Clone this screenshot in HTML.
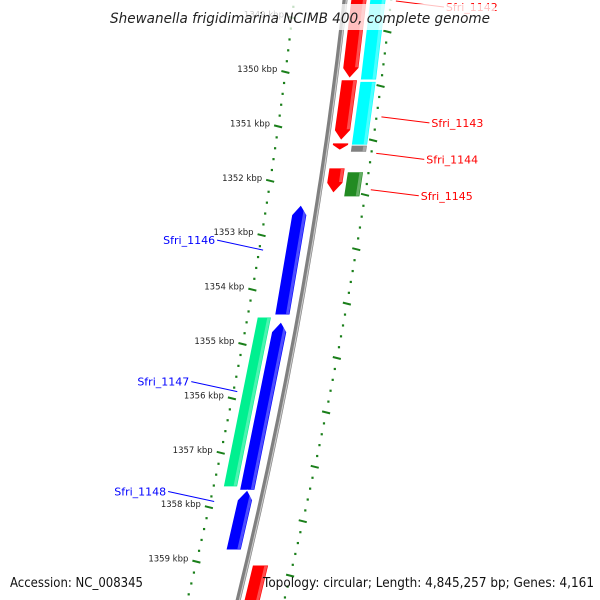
<!DOCTYPE html>
<html><head><meta charset="utf-8"><style>
html,body{margin:0;padding:0;background:#fff;}
svg{display:block;font-family:"DejaVu Sans","Liberation Sans",sans-serif;}
</style></head><body>
<svg id="map" width="600" height="600" viewBox="0 0 600 600">
<g id="rulers"></g>
<g id="backbone"></g>
<g id="genes"></g>
<g id="labels"></g>
<rect x="105" y="4" width="390" height="26" fill="#fff" opacity="0.75"/>
<text x="300" y="23" text-anchor="middle" font-size="14" font-style="italic" fill="#222" textLength="380" lengthAdjust="spacingAndGlyphs">Shewanella frigidimarina NCIMB 400, complete genome</text>
<text x="10" y="587" font-size="13" fill="#111" textLength="133" lengthAdjust="spacingAndGlyphs">Accession: NC_008345</text>
<text x="263" y="587" font-size="13" fill="#111" textLength="331" lengthAdjust="spacingAndGlyphs">Topology: circular; Length: 4,845,257 bp; Genes: 4,161</text>
</svg>
<script>
// data
const tickKbp = [1349, 1350, 1351, 1352, 1353, 1354, 1355, 1356, 1357, 1358, 1359, 1360];
const tickLabels = ["1349 kbp","1350 kbp","1351 kbp","1352 kbp","1353 kbp","1354 kbp","1355 kbp","1356 kbp","1357 kbp","1358 kbp","1359 kbp","1360 kbp"];
const geneNames = ["Sfri_1142","cds-1142","Sfri_1143","cds-1143b","small-1143","Sfri_1144","Sfri_1145","cds-1145","Sfri_1146","Sfri_1147","cds-1147","Sfri_1148","cds-1149"];
const geneStart = [1348.55,1348.55,1350.20,1350.23,1351.36,1351.40,1351.82,1351.89,1352.50,1354.65,1354.56,1357.74,1359.12];
const geneEnd   = [1350.17,1350.20,1351.31,1351.40,1351.49,1351.53,1352.28,1352.35,1354.52,1357.74,1357.68,1358.84,1360.00];
const geneStrand= [1,1,1,1,1,1,1,1,-1,-1,-1,-1,1];
const geneRing  = [1,2,1,2,1,2,1,2,1,1,2,1,1];
const geneColor = ["#ff0000","#00ffff","#ff0000","#00ffff","#ff0000","#808080","#ff0000","#228b22","#0000ff","#0000ff","#00f090","#0000ff","#ff0000"];
const geneArrow = [1,0,1,0,1,0,1,0,1,1,0,1,1];
const labelNames = ["Sfri_1142","Sfri_1143","Sfri_1144","Sfri_1145","Sfri_1146","Sfri_1147","Sfri_1148"];
const labelKbp   = [1348.75,1350.88,1351.55,1352.22,1353.33,1355.93,1357.95];

const NS="http://www.w3.org/2000/svg";
function yOf(k){return 69+(k-1350)*54.4;}
function xc(y){return 345-0.112*y-0.00011*y*y;}
function P(y,u){return (xc(y)+u).toFixed(1)+","+y.toFixed(1);}
function mk(tag,attrs,parent){const e=document.createElementNS(NS,tag);for(const k in attrs)e.setAttribute(k,attrs[k]);parent.appendChild(e);return e;}

// backbone
const bb=document.getElementById('backbone');
let pts=[];for(let y=-10;y<=610;y+=10)pts.push(P(y,0));
const bl=mk('polyline',{points:pts.join(' '),fill:'none',stroke:'#808080','stroke-width':5},bb);


const bl2=mk('polyline',{points:pts.map((p,i)=>P(-10+i*10,1.3)).join(' '),fill:'none',stroke:'#c8c8c8','stroke-width':1.2},bb);



// rulers
const rg=document.getElementById('rulers');
function ruler(u,offset,side){
  for(let k=1348;k<=1361;k+=0.2){
    const y=yOf(k)+offset; if(y<-5||y>605)continue;
    const major=Math.abs(k-Math.round(k))<0.01;
    if(major){
      const d=mk('line',{x1:xc(y)+u-4,y1:y-1,x2:xc(y)+u+4,y2:y+1,stroke:'#1a7f1a','stroke-width':2},rg);
      
      
    } else {
      const d=mk('rect',{x:xc(y)+u-1,y:y-1,width:2.2,height:2.2,fill:'#1a7f1a'},rg);
      
      
    }
  }
}
ruler(-51,3,'left');
ruler(46,17,'right');
tickKbp.forEach((k,i)=>{
  const y=yOf(k); if(y<0||y>590)return;
  const t=mk('text',{x:xc(y+3)-59,y:y+3,'text-anchor':'end','font-size':8.5,fill:'#222'},rg);
  t.textContent=tickLabels[i];
  
  
});

// genes
const gg=document.getElementById('genes');
geneNames.forEach((n,i)=>{
  let y1=yOf(geneStart[i]),y2=yOf(geneEnd[i]);
  const s=geneStrand[i],r=geneRing[i];
  let a,b;
  if(s>0){a=r===1?6:25;b=r===1?22:41;}else{a=r===1?-24:-41;b=r===1?-9:-27;}
  const h=Math.min(10,(y2-y1)*0.7);
  let p;
  if(!geneArrow[i]) p=[P(y1,a),P(y1,b),P(y2,b),P(y2,a)];
  else if(s>0) p=[P(y1,a),P(y1,b),P(y2-h,b),P(y2,(a+b)/2),P(y2-h,a)];
  else p=[P(y1,(a+b)/2),P(y1+h,b),P(y2,b),P(y2,a),P(y1+h,a)];
  const g=mk('polygon',{points:p.join(' '),fill:geneColor[i],stroke:'#fff','stroke-width':0.8},gg);
  
  
  const hl=mk('polygon',{points:[P(y1+1,b-4),P(y1+1,b-1),P(y2-(geneArrow[i]&&s>0?h:0)-1,b-1),P(y2-(geneArrow[i]&&s>0?h:0)-1,b-4)].join(' '),fill:'#fff',opacity:0.3},gg);
  
  
});

// labels
const lg=document.getElementById('labels');
labelNames.forEach((n,i)=>{
  const y=yOf(labelKbp[i]);
  const fwd=i<4;
  const col=fwd?'#ff0000':'#0000ff';
  let x0,x1,ty;
  if(fwd){x0=xc(y)+51;x1=x0+48;ty=y+6;}
  else{x0=xc(y)-47;x1=x0-46;ty=y-10;}
  const l=mk('line',{x1:x0,y1:y,x2:x1,y2:ty,stroke:col,'stroke-width':1},lg);
  
  
  const t=mk('text',{x:fwd?x1+2:x1-2,y:ty+4,'text-anchor':fwd?'start':'end','font-size':11,fill:col},lg);
  t.textContent=n;
  
  
});
</script>
</body></html>
